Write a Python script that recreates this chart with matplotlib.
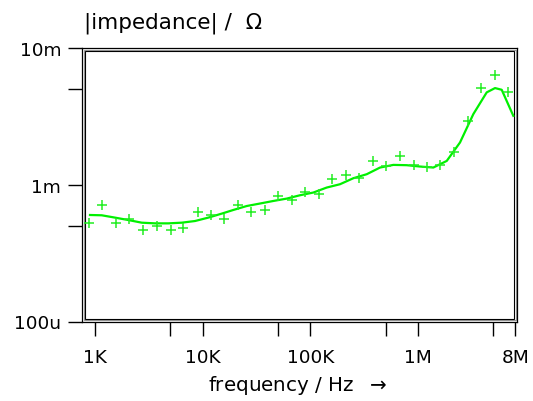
import matplotlib
matplotlib.use('Agg')
import matplotlib.pyplot as plt
from matplotlib.patches import Rectangle
from matplotlib.ticker import NullFormatter

# gemessene Punkte (Marker "+")
freq_meas = [880, 1169, 1557, 2069, 2809, 3740, 5023, 6565, 8948, 11810,
             15770, 21140, 28090, 37490, 50230, 67050, 89480, 119450, 158700,
             211800, 283900, 378900, 503600, 679200, 910300, 1.209e6, 1.597e6,
             2.141e6, 2.887e6, 3.837e6, 5.176e6, 6.877e6]
z_meas = [0.528e-3, 0.710e-3, 0.522e-3, 0.5625e-3, 0.468e-3, 0.501e-3, 0.468e-3,
          0.483e-3, 0.634e-3, 0.600e-3, 0.5625e-3, 0.708e-3, 0.632e-3, 0.650e-3,
          0.824e-3, 0.777e-3, 0.889e-3, 0.852e-3, 1.105e-3, 1.184e-3, 1.129e-3,
          1.487e-3, 1.373e-3, 1.631e-3, 1.392e-3, 1.343e-3, 1.401e-3, 1.722e-3,
          2.918e-3, 5.075e-3, 6.363e-3, 4.785e-3]

# Modellkurve
freq_fit = [898, 1154, 1533, 2038, 2714, 3607, 4793, 6383, 8484, 11270, 15010,
            19240, 25620, 34040, 45240, 60250, 80080, 106400, 141700, 188300,
            250200, 333200, 442900, 588500, 783700, 1.041e6, 1.384e6, 1.844e6,
            2.449e6, 3.254e6, 4.334e6, 5.176e6, 5.972e6, 7.653e6]
z_fit = [0.601e-3, 0.598e-3, 0.575e-3, 0.552e-3, 0.528e-3, 0.522e-3, 0.522e-3,
         0.528e-3, 0.543e-3, 0.575e-3, 0.615e-3, 0.654e-3, 0.699e-3, 0.729e-3,
         0.761e-3, 0.792e-3, 0.838e-3, 0.877e-3, 0.954e-3, 1.009e-3, 1.116e-3,
         1.194e-3, 1.336e-3, 1.397e-3, 1.390e-3, 1.359e-3, 1.336e-3, 1.494e-3,
         2.038e-3, 3.284e-3, 4.737e-3, 5.093e-3, 4.949e-3, 3.192e-3]

xticks = [1e3, 1e4, 1e5, 1e6, 8e6]
xticklabels = ['1K', '10K', '100K', '1M', '8M']
xminor = [5e3, 5e4, 5e5, 5e6]
yticks = [1e-4, 1e-3, 1e-2]
yticklabels = ['100u', '1m', '10m']
yminor = [5e-4, 5e-3]

W, H = 533, 402
fig = plt.figure(figsize=(W / 100, H / 100), dpi=100)
ax = fig.add_axes([82 / W, (H - 322.5) / H, (517 - 82) / W, (322.5 - 49) / H])

ax.plot(freq_fit, z_fit, color='#00f000', lw=1.6)
ax.plot(freq_meas, z_meas, '+', color='#22ee22', ms=6.5, mew=1.1)

ax.set_xscale('log')
ax.set_yscale('log')
ax.set_xlim(757, 8.28e6)
ax.set_ylim(1e-4, 1e-2)

ax.set_xticks(xticks, labels=xticklabels)
ax.set_xticks(xminor, minor=True)
ax.set_yticks(yticks, labels=yticklabels)
ax.set_yticks(yminor, minor=True)
ax.xaxis.set_minor_formatter(NullFormatter())
ax.yaxis.set_minor_formatter(NullFormatter())
ax.tick_params(which='both', direction='out', length=10, width=1.0,
               labelsize=13.3, colors='black')
ax.tick_params(axis='x', which='both', pad=9)
ax.tick_params(axis='y', which='both', pad=5)

for s in ax.spines.values():
    s.set_linewidth(0.9)

# Doppelrahmen
dx, dy = 3 / (517 - 82), 3 / (322.5 - 49)
ax.add_patch(Rectangle((dx / 2, dy / 2), 1 - dx, 1 - dy, transform=ax.transAxes,
                       fill=False, ec='#999999', lw=0.8, clip_on=False))
ax.add_patch(Rectangle((dx, dy), 1 - 2 * dx, 1 - 2 * dy, transform=ax.transAxes,
                       fill=False, ec='black', lw=0.8, clip_on=False))

fig.text(84 / W, (H - 29) / H, '|impedance| /  Ω', fontsize=15.5, va='baseline', ha='left')
fig.text(208 / W, (H - 391) / H, 'frequency / Hz  $\\rightarrow$', fontsize=14.3,
         va='baseline', ha='left')

fig.savefig('out.png', dpi=100)
